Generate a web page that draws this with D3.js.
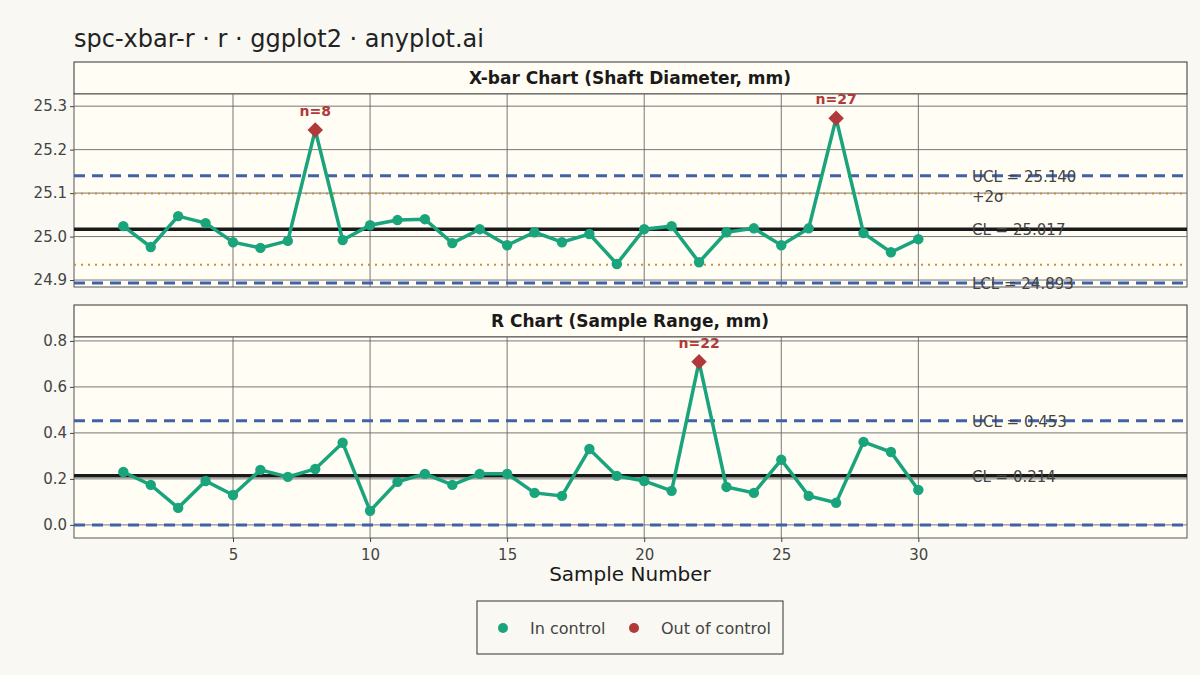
<!DOCTYPE html>
<html><head><meta charset="utf-8">
<script src="https://cdn.jsdelivr.net/npm/d3@7"></script>
<style>body{margin:0;background:#FAF8F2}svg text{font-family:"DejaVu Sans","Liberation Sans",sans-serif}</style>
</head><body><svg id="c" width="1200" height="675" font-family="DejaVu Sans"></svg>
<script>
const samples = d3.range(1,31);
const xbar = [25.024,24.976,25.047,25.031,24.987,24.974,24.990,25.245,24.992,25.026,25.038,25.040,24.985,25.017,24.980,25.010,24.987,25.006,24.937,25.017,25.024,24.941,25.010,25.019,24.980,25.019,25.272,25.008,24.964,24.994];
const range = [0.230,0.174,0.074,0.191,0.130,0.239,0.209,0.243,0.357,0.061,0.187,0.222,0.174,0.222,0.222,0.139,0.126,0.330,0.213,0.191,0.148,0.709,0.165,0.139,0.283,0.126,0.096,0.361,0.317,0.152];
const xbarLimits = {UCL:25.140, CL:25.017, LCL:24.893, p2:25.099, m2:24.935};
const rLimits = {UCL:0.453, CL:0.214, LCL:0.0};
const xbarTicks = [24.9,25.0,25.1,25.2,25.3];
const rTicks = [0.0,0.2,0.4,0.6,0.8];
const xTicks = [5,10,15,20,25,30];

const svg = d3.select("#c");
const green="#1AA47C", red="#B03A3A", blue="#3F62A8", orange="#C8923A";
svg.append("text").attr("x",74).attr("y",47).attr("font-size",24).attr("fill","#222").text("spc-xbar-r · r · ggplot2 · anyplot.ai");

const x = d3.scaleLinear().domain([-0.8,39.8]).range([74,1187]);

function panel(top,bottom,stripTop,title,domain,ticks,fmt,vals,lim,extra){
  const y = d3.scaleLinear().domain(domain).range([bottom,top]);
  const g = svg.append("g");
  g.append("rect").attr("x",74).attr("y",stripTop).attr("width",1113).attr("height",top-stripTop).attr("fill","#FFFDF4").attr("stroke","#333");
  g.append("text").attr("x",630).attr("y",(stripTop+top)/2+6).attr("text-anchor","middle").attr("font-size",17).attr("font-weight","bold").attr("fill","#1a1a1a").text(title);
  g.append("rect").attr("x",74).attr("y",top).attr("width",1113).attr("height",bottom-top).attr("fill","#FFFDF4").attr("stroke","#555");
  ticks.forEach(t=>g.append("line").attr("x1",74).attr("x2",1187).attr("y1",y(t)).attr("y2",y(t)).attr("stroke","#666").attr("stroke-width",0.9));
  xTicks.forEach(t=>g.append("line").attr("x1",x(t)).attr("x2",x(t)).attr("y1",top).attr("y2",bottom).attr("stroke","#666").attr("stroke-width",0.9));
  g.append("g").attr("transform","translate(74,0)").call(d3.axisLeft(y).tickValues(ticks).tickFormat(fmt).tickSize(4))
   .call(a=>{a.select(".domain").remove();a.selectAll("text").attr("font-size",15).attr("fill","#444").attr("font-family","DejaVu Sans");a.selectAll("line").attr("stroke","#444");});
  if(extra){[extra.p2,extra.m2].forEach(v=>g.append("line").attr("x1",74).attr("x2",1187).attr("y1",y(v)).attr("y2",y(v)).attr("stroke",orange).attr("stroke-width",2).attr("stroke-dasharray","2,5"));}
  [lim.UCL,lim.LCL].forEach(v=>g.append("line").attr("x1",74).attr("x2",1187).attr("y1",y(v)).attr("y2",y(v)).attr("stroke",blue).attr("stroke-width",3).attr("stroke-dasharray","11,7"));
  g.append("line").attr("x1",74).attr("x2",1187).attr("y1",y(lim.CL)).attr("y2",y(lim.CL)).attr("stroke","#1a1a1a").attr("stroke-width",3.5);
  const line=d3.line().x((d,i)=>x(samples[i])).y(d=>y(d));
  g.append("path").attr("d",line(vals)).attr("fill","none").attr("stroke",green).attr("stroke-width",3.5);
  vals.forEach((v,i)=>{
    const out = v>lim.UCL || v<lim.LCL;
    if(out){
      g.append("path").attr("d",d3.symbol(d3.symbolSquare,120)()).attr("transform",`translate(${x(samples[i])},${y(v)}) rotate(45)`).attr("fill",red);
      g.append("text").attr("x",x(samples[i])).attr("y",y(v)-14).attr("text-anchor","middle").attr("font-size",14).attr("font-weight","bold").attr("fill",red).text("n="+samples[i]);
    } else g.append("circle").attr("cx",x(samples[i])).attr("cy",y(v)).attr("r",5.2).attr("fill",green);
  });
  const lab=(v,t,dy)=>g.append("text").attr("x",972).attr("y",y(v)+dy).attr("font-size",15).attr("fill","#444").text(t);
  lab(lim.UCL,"UCL = "+fmt3(lim.UCL),6);
  lab(lim.CL,"CL = "+fmt3(lim.CL),6);
  if(lim.LCL>0) lab(lim.LCL,"LCL = "+fmt3(lim.LCL),6);
  if(extra) lab(extra.p2,"+2σ",8);
}
const fmt3=d3.format(".3f");
panel(94,287,62,"X-bar Chart (Shaft Diameter, mm)",[24.884,25.328],xbarTicks,d3.format(".1f"),xbar,xbarLimits,xbarLimits);
panel(337,538,305,"R Chart (Sample Range, mm)",[-0.057,0.817],rTicks,d3.format(".1f"),range,rLimits,null);
svg.append("g").attr("transform","translate(0,538)").call(d3.axisBottom(x).tickValues(xTicks).tickSize(4))
  .call(a=>{a.select(".domain").remove();a.selectAll("text").attr("font-size",15).attr("fill","#444").attr("font-family","DejaVu Sans").attr("dy","1em");a.selectAll("line").attr("stroke","#444");});
svg.append("text").attr("x",630).attr("y",581).attr("text-anchor","middle").attr("font-size",20).attr("fill","#1a1a1a").text("Sample Number");
const lg=svg.append("g");
lg.append("rect").attr("x",477).attr("y",601).attr("width",306).attr("height",53).attr("fill","#FAF8F2").attr("stroke","#333");
lg.append("circle").attr("cx",503).attr("cy",628).attr("r",5).attr("fill",green);
lg.append("text").attr("x",530).attr("y",634).attr("font-size",16).attr("fill","#444").text("In control");
lg.append("circle").attr("cx",634).attr("cy",628).attr("r",5).attr("fill",red);
lg.append("text").attr("x",661).attr("y",634).attr("font-size",16).attr("fill","#444").text("Out of control");
</script></body></html>
